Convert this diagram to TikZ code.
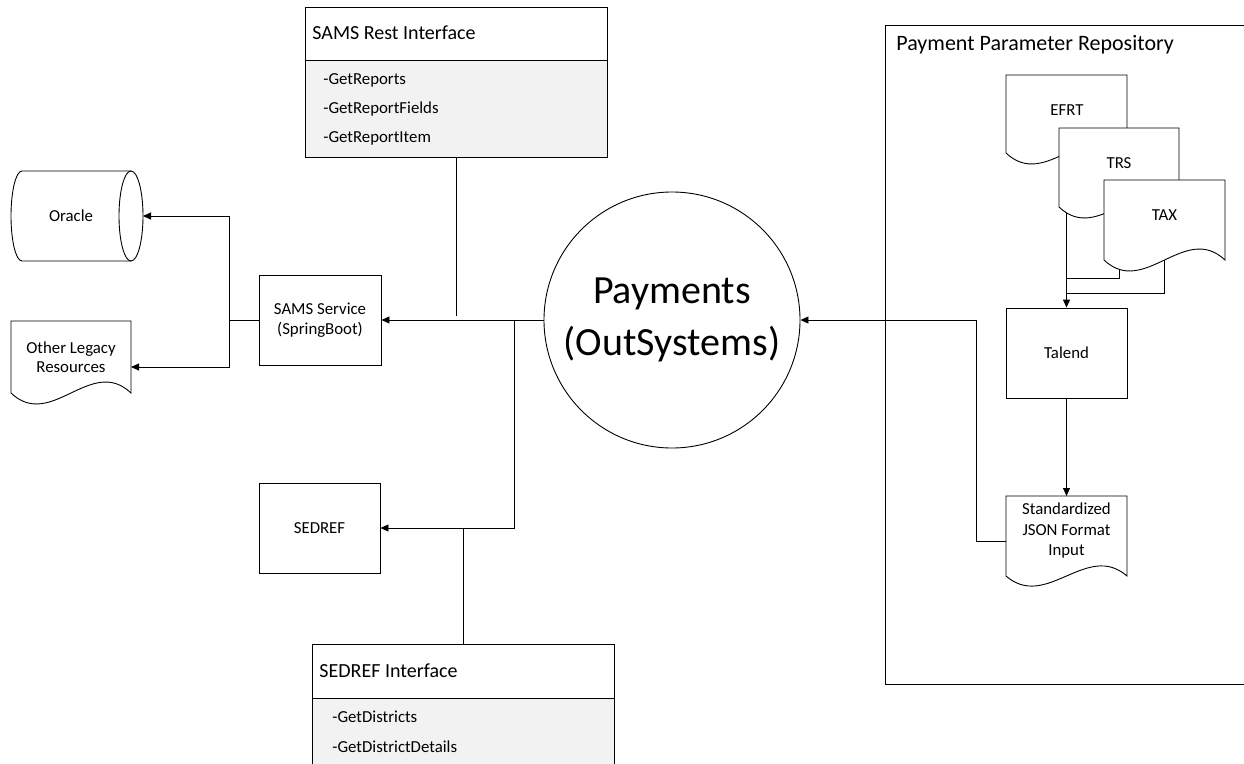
\documentclass[tikz,border=0pt]{standalone}
\usepackage{fontspec}
\setmainfont{Carlito}
\usetikzlibrary{arrows.meta}
\begin{document}
\begin{tikzpicture}[x=1pt,y=-1pt,line width=0.9pt,
  box/.style={draw,fill=white,line width=0.9pt,inner sep=0pt},
  arr/.style={-{Triangle[length=8pt,width=7pt]}},
  lbl/.style={font=\fontsize{16.8}{20.5}\selectfont,align=center,inner sep=0pt},
  item/.style={font=\fontsize{16.8}{20}\selectfont,anchor=west,inner sep=0pt},
  head/.style={font=\fontsize{20}{22}\selectfont,anchor=west,inner sep=0pt},
  doc/.style={draw,fill=white,line width=0.9pt}]
\useasboundingbox (0,0) rectangle (1244,763);

% Payment Parameter Repository container
\draw (1250,25) -- (885,25) -- (885,684) -- (1250,684);
\node[head,font=\fontsize{22}{24}\selectfont] (reptitle) at (896,45) {Payment Parameter Repository};

% central circle
\node[draw,circle,minimum size=256pt,inner sep=0pt,fill=white,align=center,
      font=\fontsize{40}{52}\selectfont] (pay) at (672,320) {Payments\\(OutSystems)};

% SAMS Rest Interface
\draw[fill=white] (305,7) rectangle (607,60);
\draw[fill=black!5] (305,60) rectangle (607,157);
\coordinate (rest) at (456,157);
\node[head] (resth) at (312,33) {SAMS Rest Interface};
\node[item] (r1) at (323,80) {-GetReports};
\node[item] (r2) at (323,109) {-GetReportFields};
\node[item] (r3) at (323,138) {-GetReportItem};

% SAMS Service
\node[box,minimum width=122pt,minimum height=90pt,lbl] (sams) at (320,320) {SAMS Service\\(SpringBoot)};

% Oracle cylinder
\draw[doc] (22,171) -- (131,171) arc[start angle=90,end angle=-90,x radius=12pt,y radius=45pt]
  -- (22,261) arc[start angle=-90,end angle=-270,x radius=11pt,y radius=45pt] -- cycle;
\draw (131,171) arc[start angle=90,end angle=270,x radius=12pt,y radius=45pt];
\coordinate (oracle) at (143,216);
\node[lbl] (oracletxt) at (71,216) {Oracle};

% Other Legacy Resources document
\draw[doc] (11,321) -- (131,321) -- (131,393) .. controls (91,355) and (51,431) .. (11,393) -- cycle;
\coordinate (legacy) at (131,367);
\node[lbl,font=\fontsize{16.8}{19.5}\selectfont] (legacytxt) at (71,357) {Other Legacy\\Resources};

% SEDREF
\node[box,minimum width=121pt,minimum height=90pt,lbl] (sedref) at (319.5,528) {SEDREF};

% SEDREF Interface
\draw[fill=white] (312,644) rectangle (614,698);
\draw[fill=black!5] (312,698) rectangle (614,775);
\coordinate (sedint) at (463,644);
\node[head] (sedh) at (319,671) {SEDREF Interface};
\node[item] (s1) at (332,717) {-GetDistricts};
\node[item] (s2) at (332,747) {-GetDistrictDetails};

% left connectors
\coordinate (j1) at (229,320);
\draw (sams.west) -- (j1);
\draw[arr] (j1) |- (oracle);
\draw[arr] (j1) |- (legacy);
\draw[arr] (pay.west) -- (sams.east);
\coordinate (restend) at (456,316);
\draw (rest) -- (restend);
\coordinate (j2) at (514,320);
\draw[arr] (j2) |- (sedref.east);
\coordinate (j3) at (463,528);
\draw (j3) -- (sedint);

% right side: Talend and JSON
\node[box,minimum width=121pt,minimum height=90pt,lbl] (talend) at (1066.5,353) {Talend};
\coordinate (efrtc) at (1066.5,140);
\coordinate (trsc) at (1119,200);
\coordinate (taxc) at (1164.5,250);
\draw[arr] (efrtc) -- (talend.north);
\draw (trsc) |- (1066.5,278);
\draw (taxc) |- (1066.5,293);

% documents
\draw[doc] (1006,75) -- (1127,75) -- (1127,153) .. controls (1086.7,115) and (1046.3,191) .. (1006,153) -- cycle;
\node[lbl] (efrt) at (1067,110) {EFRT};
\draw[doc] (1059,128) -- (1179,128) -- (1179,207) .. controls (1139,169) and (1099,245) .. (1059,207) -- cycle;
\node[lbl] (trs) at (1119,163) {TRS};
\draw[doc] (1104,180) -- (1225,180) -- (1225,260) .. controls (1184.7,222) and (1144.3,298) .. (1104,260) -- cycle;
\node[lbl] (tax) at (1164.5,215) {TAX};

\draw[doc] (1006,496) -- (1127,496) -- (1127,576) .. controls (1086.7,541) and (1046.3,611) .. (1006,576) -- cycle;
\coordinate (jsonw) at (1006,541);
\coordinate (jsonn) at (1066.5,496);
\node[lbl] (json) at (1066.5,531) {Standardized\\JSON Format\\Input};
\draw[arr] (talend.south) -- (jsonn);
\draw[arr] (jsonw) -- (976,541) |- (pay.east);
\end{tikzpicture}
\end{document}
